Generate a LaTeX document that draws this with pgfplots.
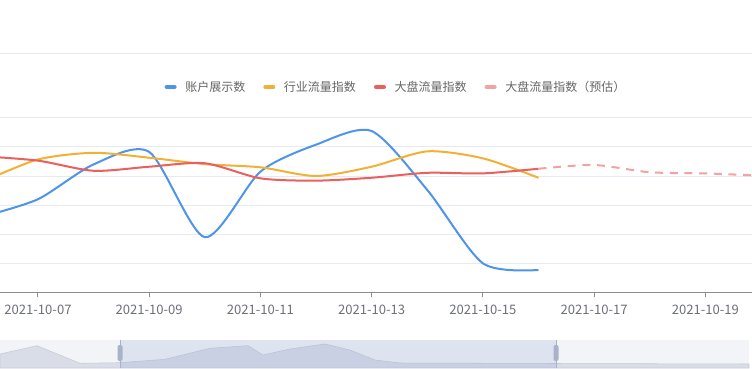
\documentclass[border=0pt]{standalone}
\usepackage{pgfplots}
\pgfplotsset{compat=1.18}
\usepackage{fontspec}
\setmainfont{Noto Sans CJK SC}
\definecolor{cblue}{HTML}{4E94E8}
\definecolor{corange}{HTML}{F2B134}
\definecolor{cred}{HTML}{E9605E}
\definecolor{cpink}{HTML}{F0A3A3}
\definecolor{cgrid}{HTML}{E6E9F0}
\definecolor{caxis}{HTML}{8A8D96}
\definecolor{ctext}{HTML}{6E7079}
\definecolor{clegend}{HTML}{666666}
\definecolor{cbg}{HTML}{F2F4F8}
\definecolor{cshadow}{HTML}{D9DDE8}
\definecolor{csel}{HTML}{8FA0D0}
\definecolor{chandle}{HTML}{A9B2C8}
\begin{document}
\begin{tikzpicture}
\fill[white] (0,0) rectangle (564pt,276pt);
\draw[cgrid, line width=0.75pt] (0,235.5pt) -- (564pt,235.5pt);
\begin{axis}[
  at={(0pt,57pt)}, anchor=south west,
  width=564pt, height=130.5pt, scale only axis,
  xmin=6.317, xmax=19.84, ymin=0, ymax=6,
  axis x line*=bottom, axis y line*=left,
  y axis line style={draw=none},
  x axis line style={caxis, line width=0.75pt, -},
  ytick={1,2,3,4,5,6}, yticklabels={}, ytick style={draw=none},
  ymajorgrids, major grid style={cgrid, line width=0.75pt},
  xtick={7,9,11,13,15,17,19},
  xticklabels={2021-10-07,2021-10-09,2021-10-11,2021-10-13,2021-10-15,2021-10-17,2021-10-19},
  xtick align=outside, major tick length=3.75pt,
  xtick style={caxis, line width=0.75pt},
  xticklabel style={font=\fontsize{9.8}{11}\selectfont, text=ctext, yshift=-2.6pt},
  legend style={at={(0.527,1.178)}, anchor=center, draw=none, fill=none,
    font=\fontsize{9}{10}\selectfont, text=clegend, inner sep=0pt,
    /tikz/every even column/.append style={column sep=11.5pt}},
  legend columns=4, legend cell align=left,
  legend image code/.code={\path[draw=none] (0pt,0pt) -- (13.5pt,0pt);\draw[#1, solid, line width=3pt, line cap=round] (1.5pt,0pt) -- (7.5pt,0pt);},
  every axis plot/.append style={smooth, tension=0.45},
]
\addplot[cblue, line width=1.5pt] coordinates {
 (6,2.6) (7,3.2) (8,4.4) (9,4.83) (10,1.89) (11,4.15) (12,5.08) (13,5.55) (14,3.52) (15,0.99) (16,0.76)};
\addlegendentry{账户展示数}
\addplot[corange, line width=1.5pt] coordinates {
 (6,3.8) (7,4.57) (8,4.80) (9,4.63) (10,4.41) (11,4.30) (12,4.00) (13,4.32) (14,4.85) (15,4.61) (16,3.94)};
\addlegendentry{行业流量指数}
\addplot[cred, line width=1.5pt] coordinates {
 (6,4.68) (7,4.53) (8,4.18) (9,4.32) (10,4.44) (11,3.92) (12,3.84) (13,3.94) (14,4.11) (15,4.09) (16,4.25)};
\addlegendentry{大盘流量指数}
\addplot[cpink, line width=1.5pt, dash pattern=on 6pt off 5pt] coordinates {
 (16,4.25) (17,4.38) (18,4.13) (19,4.09) (20,4.01)};
\addlegendentry{大盘流量指数（预估）}
\end{axis}
\begin{axis}[
  at={(0pt,0pt)}, anchor=south west,
  width=564pt, height=21pt, scale only axis,
  xmin=0, xmax=752, ymin=0, ymax=28, hide axis, clip=false]
\fill[cbg] (axis cs:0,0) rectangle (axis cs:749,28);
\addplot[fill=cshadow, draw=cshadow!80!gray, line width=0.4pt] coordinates {
 (0,14) (37,22.3) (80,4.7) (120,5.3) (165,8.7) (210,19.7) (248,22.3) (263,13) (290,19) (325,24) (350,18) (375,8) (400,5) (556,4.5) (749,4)} \closedcycle;
\fill[csel, opacity=0.2] (axis cs:120,0) rectangle (axis cs:556,28);
\draw[chandle, line width=0.75pt] (axis cs:120,0) -- (axis cs:120,28);
\draw[chandle, line width=0.75pt] (axis cs:556,0) -- (axis cs:556,28);
\fill[chandle, rounded corners=1.5pt] (axis cs:117.5,7) rectangle (axis cs:122.5,23);
\fill[chandle, rounded corners=1.5pt] (axis cs:553.5,7) rectangle (axis cs:558.5,23);
\end{axis}
\pgfresetboundingbox
\useasboundingbox (0,0) rectangle (564pt,276pt);
\end{tikzpicture}
\end{document}
